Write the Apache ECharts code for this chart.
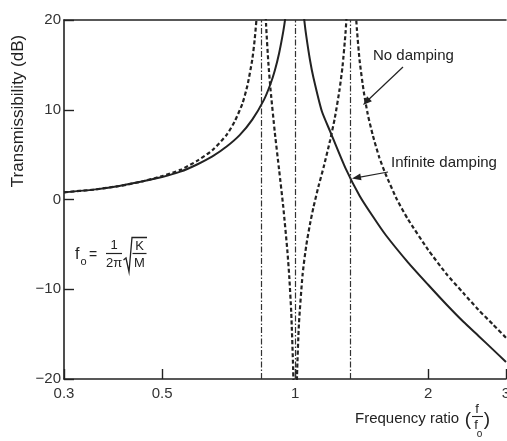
<!DOCTYPE html>
<html>
<head>
<meta charset="utf-8">
<script src="https://cdn.jsdelivr.net/npm/echarts@6/dist/echarts.min.js"></script>
<style>
	html, body { margin: 0; padding: 0; background: #fff; }
	#tuxing { width: 507px; height: 441px; }
</style>
</head>
<body>
<div id="tuxing"></div>
<script>
	// 频率比刻度 / dB 刻度
	var freqTicks = [0.3, 0.5, 1, 2, 3];
	var dbTicks = [-20, -10, 0, 10, 20];

	// 共振位置 (点划线)
	var resonanceF = [0.84, 1, 1.33];

	// Infinite damping (实线)
	var infF = [0.3, 0.35, 0.4, 0.45, 0.5, 0.55, 0.6, 0.65, 0.7, 0.75, 0.8, 0.85, 0.88, 0.9, 0.92, 0.94, 0.95, 0.96, 0.98,
		1.0, 1.02, 1.04, 1.05, 1.06, 1.08, 1.1, 1.15, 1.2, 1.3, 1.4, 1.5, 1.6, 1.8, 2.0, 2.2, 2.4, 2.6, 2.8, 3.0];
	var infDb = [0.8, 1.1, 1.5, 2.0, 2.5, 3.1, 3.9, 4.8, 5.9, 7.2, 8.9, 11.1, 12.9, 14.4, 16.3, 18.7, 20.2, 22.1, 28.0,
		null, 27.9, 21.8, 19.8, 18.2, 15.6, 13.6, 9.8, 7.6, 3.5, 0.4, -1.9, -3.9, -7.0, -9.5, -11.7, -13.6, -15.2, -16.7, -18.1];

	// No damping (虚线)
	var ndF = [0.3, 0.35, 0.4, 0.45, 0.5, 0.55, 0.6, 0.65, 0.7, 0.73, 0.76, 0.78, 0.8, 0.81, 0.82, 0.83, 0.835,
		0.84, 0.845, 0.85, 0.86, 0.87, 0.88, 0.9, 0.92, 0.94, 0.96, 0.97, 0.98, 0.99, 0.995, 1.0,
		1.005, 1.01, 1.02, 1.04, 1.06, 1.08, 1.1, 1.13, 1.16, 1.2, 1.23, 1.26, 1.28, 1.3, 1.31, 1.32, 1.33,
		1.34, 1.35, 1.36, 1.37, 1.38, 1.4, 1.43, 1.46, 1.5, 1.55, 1.6, 1.7, 1.8, 2.0, 2.2, 2.4, 2.6, 2.8, 3.0];
	var ndDb = [0.8, 1.1, 1.5, 2.0, 2.6, 3.3, 4.3, 5.5, 7.2, 8.7, 10.7, 12.7, 15.6, 17.8, 20.9, 26.6, 32.4,
		null, 32.0, 25.7, 19.3, 15.2, 12.2, 7.4, 3.3, -0.8, -5.6, -8.6, -12.6, -19.0, -25.2, -40,
		-25.5, -19.6, -13.9, -8.3, -5.1, -2.8, -0.9, 1.5, 3.6, 6.6, 9.1, 12.2, 14.8, 18.5, 21.1, 24.6, 30.7,
		null, 30.8, 24.8, 21.3, 18.9, 15.4, 12.0, 9.5, 7.1, 4.7, 2.9, 0.0, -2.2, -5.6, -8.3, -10.4, -12.3, -13.9, -15.4];

	function pairs(fs, ds) {
		return fs.map(function(f, i) {
			return [f, ds[i] === null ? '-' : ds[i]];
		});
	}

	var ink = '#222';
	var font = '"Liberation Sans", Arial, sans-serif';

	function txt(x, y, s, size, align, extra) {
		var el = {
			type: 'text',
			x: x,
			y: y,
			silent: true,
			style: {
				text: s,
				fill: ink,
				font: size + 'px ' + font,
				align: align || 'left',
				textAlign: align || 'left',
				verticalAlign: 'middle',
				textVerticalAlign: 'middle'
			}
		};
		if (extra) {
			for (var k in extra) el[k] = extra[k];
		}
		return el;
	}

	function seg(x1, y1, x2, y2, w) {
		return {
			type: 'line',
			silent: true,
			shape: { x1: x1, y1: y1, x2: x2, y2: y2 },
			style: { stroke: ink, lineWidth: w || 1.2 }
		};
	}

	var myChart = echarts.init(document.getElementById('tuxing'), null, { renderer: 'canvas' });

	var option = {
		animation: false,
		backgroundColor: '#fff',
		grid: { left: 64, right: 1, top: 20, bottom: 62, containLabel: false, outerBoundsMode: 'none' },
		xAxis: [{
			type: 'log',
			logBase: 10,
			min: 0.3,
			max: 3,
			axisLine: { onZero: false, lineStyle: { color: ink, width: 1.6 } },
			axisTick: { inside: true, length: 10, customValues: freqTicks, lineStyle: { color: ink, width: 1.4 } },
			axisLabel: {
				customValues: freqTicks,
				margin: 7,
				color: '#333',
				fontSize: 15,
				fontFamily: font,
				formatter: function(v) { return String(+(+v).toFixed(2)); }
			},
			splitLine: { show: false },
			minorTick: { show: false }
		}, {
			type: 'value',
			position: 'top',
			axisLine: { show: true, onZero: false, lineStyle: { color: ink, width: 1.6 } },
			axisTick: { show: false },
			axisLabel: { show: false },
			splitLine: { show: false }
		}],
		yAxis: {
			type: 'value',
			min: dbTicks[0],
			max: dbTicks[dbTicks.length - 1],
			interval: 10,
			axisLine: { show: true, onZero: false, lineStyle: { color: ink, width: 1.6 } },
			axisTick: { show: true, inside: true, length: 10, lineStyle: { color: ink, width: 1.4 } },
			axisLabel: {
				margin: 3,
				color: '#333',
				fontSize: 15,
				fontFamily: font,
				formatter: function(v) { return String(v).replace('-', '\u2212'); }
			},
			splitLine: { show: false }
		},
		series: [{
			name: 'Infinite damping',
			type: 'line',
			data: pairs(infF, infDb),
			showSymbol: false,
			smooth: 0.2,
			connectNulls: false,
			lineStyle: { color: ink, width: 2 },
			markLine: {
				silent: true,
				symbol: 'none',
				label: { show: false },
				lineStyle: { color: '#333', width: 1.2, type: [6, 2, 1.5, 2] },
				data: resonanceF.map(function(v) { return { xAxis: v }; })
			}
		}, {
			name: 'No damping',
			type: 'line',
			data: pairs(ndF, ndDb),
			showSymbol: false,
			smooth: 0.2,
			connectNulls: false,
			lineStyle: { color: ink, width: 2.2, type: [4, 2.5] }
		}],
		graphic: [
			// y 轴名称
			txt(18, 111, 'Transmissibility (dB)', 17, 'center', { rotation: Math.PI / 2 }),
			// 注释
			txt(373, 56, 'No damping', 15),
			seg(403, 67, 366, 102),
			{ type: 'polygon', silent: true, shape: { points: [[363, 105], [371.9, 101.3], [367.1, 96.3]] }, style: { fill: ink } },
			txt(391, 163, 'Infinite damping', 15),
			seg(388, 172, 356, 177.8),
			{ type: 'polygon', silent: true, shape: { points: [[352, 178.5], [361.5, 180.3], [360.2, 173.4]] }, style: { fill: ink } },
			// f0 = 1/2π √(K/M)
			txt(75, 255, 'f', 16),
			txt(80.5, 262, 'o', 11),
			txt(89, 255, '=', 14),
			txt(114, 245, '1', 13, 'center'),
			seg(106, 253.5, 122, 253.5, 1.2),
			txt(114, 263.5, '2π', 13, 'center'),
			{ type: 'polyline', silent: true, shape: { points: [[123.5, 260], [126, 258], [129, 272], [132, 237.5], [147, 237.5]] }, style: { stroke: ink, lineWidth: 1.3, fill: null } },
			txt(139.5, 246, 'K', 13, 'center'),
			seg(132.5, 253.5, 146.5, 253.5, 1.2),
			txt(139.5, 263.5, 'M', 13, 'center'),
			// x 轴名称
			txt(355, 419, 'Frequency ratio ', 15),
			txt(468, 420, '(', 19, 'center'),
			txt(477, 409, 'f', 13, 'center'),
			seg(472, 416.5, 483, 416.5, 1.1),
			txt(476, 425, 'f', 13, 'center'),
			txt(479.5, 434, 'o', 10, 'center'),
			txt(487, 420, ')', 19, 'center')
		]
	};

	myChart.setOption(option);
</script>
</body>
</html>
